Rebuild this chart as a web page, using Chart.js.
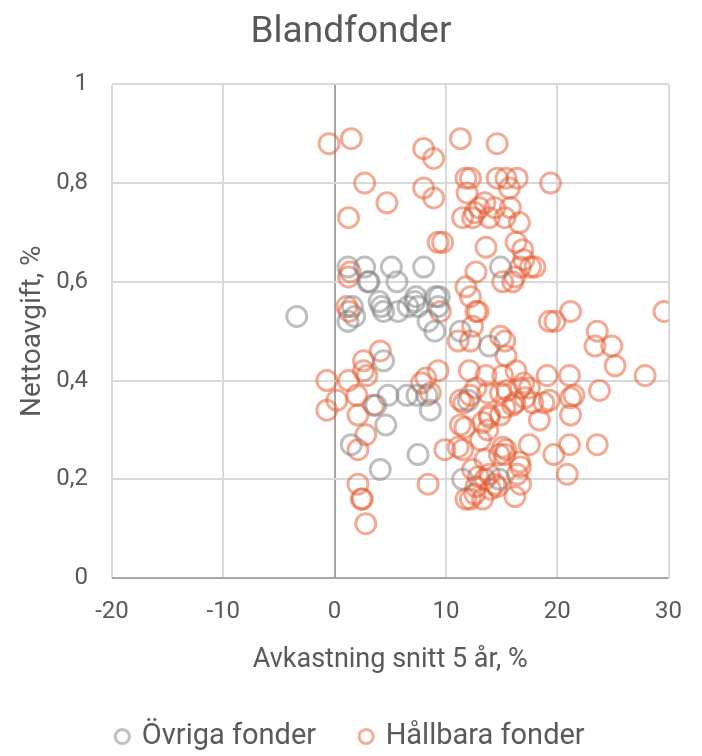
<!DOCTYPE html>
<html>
<head>
<meta charset="utf-8">
<script src="https://cdn.jsdelivr.net/npm/chart.js@4"></script>
<style>
  html, body { margin: 0; padding: 0; background: #fff; }
</style>
</head>
<body>
<canvas id="chart" width="702" height="756"></canvas>
<script>
const xTicks = [-20, -10, 0, 10, 20, 30];
const yTicks = [0, 0.2, 0.4, 0.6, 0.8, 1];

// Övriga fonder: avkastning (x) och nettoavgift (y)
const ovrigaX = [-3.4, 1.2, 2.7, 5.1, 8.0, 3.0, 3.1, 5.6, 4.0, 4.2, 4.4, 5.7, 6.6, 7.2, 7.3, 7.5, 9.1, 8.4, 9.0, 1.2,
  1.8, 4.4, 4.8, 6.5, 8.3, 8.6, 4.6, 1.5, 7.5, 4.1, 3.7, 14.9, 9.4, 9.3, 11.3, 13.9, 11.5, 12.0, 14.8, 7.4, 1.6];
const ovrigaY = [0.53, 0.63, 0.63, 0.63, 0.63, 0.60, 0.60, 0.60, 0.56, 0.55, 0.54, 0.54, 0.55, 0.56, 0.57, 0.55, 0.57, 0.52, 0.50, 0.52,
  0.53, 0.44, 0.37, 0.37, 0.37, 0.34, 0.31, 0.27, 0.25, 0.22, 0.35, 0.63, 0.57, 0.55, 0.50, 0.47, 0.20, 0.36, 0.20, 0.37, 0.55];

// Hållbara fonder
const hallbaraX = [
  -0.5, 1.5, 8.0, 8.9, 11.3, 14.6, 2.7, 8.0, 8.9, 4.7, 1.25,
  11.8, 12.2, 14.6, 15.4, 16.4, 19.4, 15.7, 11.9, 13.5, 14.4, 13.0, 15.8,
  11.5, 12.4, 13.9, 15.3, 16.6, 12.6, 16.3, 16.9, 17.0, 17.6, 18.0, 16.7,
  13.6, 9.3, 9.7, 12.7, 15.1, 16.0, 11.8, 12.2, 16.2,
  1.4, 1.25, 1.1, 1.3, 9.5, 4.1, 2.6, 2.6, 2.9, -0.7, 1.25, 9.3, 8.2, 7.8, 8.6,
  0.2, 2.0, -0.7, 3.5, 2.1, 2.8, 2.1, 2.1, 2.5, 2.4, 2.8, 8.4, 9.9,
  12.7, 12.9, 19.3, 19.8, 21.2, 12.4, 11.1, 12.2, 14.9, 15.3, 15.4, 16.3, 12.1, 13.6, 15.1,
  19.1, 21.1, 23.6, 23.4, 24.9, 25.2, 27.9, 29.6, 23.8, 21.5, 17.0,
  11.3, 11.6, 11.3, 11.7, 11.1, 11.5, 13.3, 13.75, 13.9, 13.1, 15.1, 15.4, 15.3, 17.5,
  16.6, 16.7, 16.4, 16.7, 16.2, 13.9, 14.4, 14.6, 14.0, 13.5, 12.9, 12.6, 11.8, 12.2,
  13.3, 12.7, 12.4, 13.5, 14.8, 19.3, 18.8, 18.4, 17.1, 17.8, 16.2, 15.3, 14.9, 13.9,
  12.2, 12.7, 13.75, 14.9, 15.5, 16.7, 17.5, 21.2, 21.2, 21.1, 23.6, 19.7, 20.9, 16.0
];
const hallbaraY = [
  0.88, 0.89, 0.87, 0.85, 0.89, 0.88, 0.80, 0.79, 0.77, 0.76, 0.73,
  0.81, 0.81, 0.81, 0.81, 0.81, 0.80, 0.79, 0.78, 0.76, 0.75, 0.75, 0.75,
  0.73, 0.73, 0.73, 0.73, 0.72, 0.74, 0.68, 0.665, 0.645, 0.63, 0.63, 0.63,
  0.67, 0.68, 0.68, 0.62, 0.60, 0.60, 0.59, 0.57, 0.61,
  0.62, 0.61, 0.55, 0.54, 0.54, 0.46, 0.44, 0.42, 0.41, 0.40, 0.40, 0.42, 0.405, 0.395, 0.375,
  0.36, 0.37, 0.34, 0.35, 0.33, 0.29, 0.26, 0.19, 0.16, 0.16, 0.11, 0.19, 0.26,
  0.54, 0.54, 0.52, 0.52, 0.54, 0.51, 0.48, 0.48, 0.49, 0.48, 0.45, 0.42, 0.42, 0.41, 0.41,
  0.41, 0.41, 0.50, 0.47, 0.47, 0.43, 0.41, 0.54, 0.38, 0.37, 0.395,
  0.36, 0.355, 0.31, 0.305, 0.265, 0.26, 0.315, 0.30, 0.325, 0.28, 0.265, 0.26, 0.25, 0.27,
  0.235, 0.225, 0.21, 0.19, 0.165, 0.21, 0.19, 0.185, 0.18, 0.20, 0.205, 0.17, 0.16, 0.16,
  0.16, 0.185, 0.22, 0.24, 0.25, 0.36, 0.355, 0.32, 0.365, 0.355, 0.355, 0.345, 0.33, 0.33,
  0.37, 0.385, 0.375, 0.375, 0.38, 0.385, 0.385, 0.365, 0.33, 0.27, 0.27, 0.25, 0.21, 0.35
];

const toPoints = (xs, ys) => xs.map((x, i) => ({ x: x, y: ys[i] }));
const fmt = (v) => String(Math.round(v * 10) / 10).replace(".", ",");

const fontFamily = "Roboto, 'Noto Sans', sans-serif";
const textColor = "#595959";
const gridColor = (ctx) => (ctx.tick && ctx.tick.value === 0 ? "#a6a6a6" : "#d9d9d9");

const ctx = document.getElementById("chart");
new Chart(ctx, {
  type: "scatter",
  data: {
    datasets: [
      {
        label: "Övriga fonder",
        data: toPoints(ovrigaX, ovrigaY),
        borderColor: "rgba(128, 128, 128, 0.5)",
        backgroundColor: "rgba(0, 0, 0, 0)",
        borderWidth: 3,
        pointRadius: 10,
        pointHoverRadius: 10,
      },
      {
        label: "Hållbara fonder",
        data: toPoints(hallbaraX, hallbaraY),
        borderColor: "rgba(230, 90, 45, 0.5)",
        backgroundColor: "rgba(0, 0, 0, 0)",
        borderWidth: 3,
        pointRadius: 10,
        pointHoverRadius: 10,
      },
    ],
  },
  options: {
    responsive: false,
    animation: false,
    layout: { padding: { left: 0, right: 0, top: 0, bottom: -5 } },
    scales: {
      x: {
        type: "linear",
        min: -20,
        max: 30,
        afterBuildTicks: (scale) => { scale.ticks = xTicks.map((v) => ({ value: v })); },
        afterFit: (scale) => { scale.height = 99; },
        border: { display: false },
        grid: { color: gridColor, lineWidth: 2, drawTicks: false },
        ticks: { color: textColor, padding: 20, font: { family: fontFamily, size: 24 } },
        title: {
          display: true,
          text: "Avkastning snitt 5 år, %",
          color: textColor,
          font: { family: fontFamily, size: 27 },
          padding: { top: 0, bottom: 1 },
        },
      },
      y: {
        type: "linear",
        min: 0,
        max: 1,
        afterBuildTicks: (scale) => { scale.ticks = yTicks.map((v) => ({ value: v })); },
        afterFit: (scale) => { scale.width = 112; },
        border: { display: false },
        grid: { color: gridColor, lineWidth: 2, drawTicks: false },
        ticks: { color: textColor, padding: 24, callback: (v) => fmt(v), font: { family: fontFamily, size: 24 } },
        title: {
          display: true,
          text: "Nettoavgift, %",
          color: textColor,
          font: { family: fontFamily, size: 28 },
          padding: { top: 16, bottom: 0 },
        },
      },
      // empty right-hand axis, only reserves the margin right of the plot
      yRight: {
        position: "right",
        min: 0,
        max: 1,
        afterFit: (scale) => { scale.width = 31; },
        border: { display: false },
        grid: { display: false },
        ticks: { display: false },
      },
    },
    plugins: {
      title: {
        display: true,
        text: "Blandfonder",
        color: textColor,
        font: { family: fontFamily, size: 37, weight: "normal" },
        padding: { top: 11, bottom: 29 },
      },
      legend: {
        position: "bottom",
        labels: {
          usePointStyle: true,
          pointStyle: "circle",
          boxWidth: 10,
          boxHeight: 10,
          padding: 45,
          color: textColor,
          font: { family: fontFamily, size: 29 },
        },
      },
      tooltip: { enabled: false },
    },
  },
});
</script>
</body>
</html>
